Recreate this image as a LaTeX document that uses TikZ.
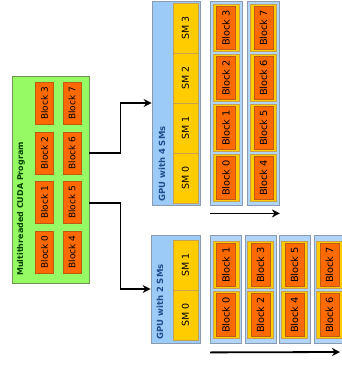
\documentclass[tikz,border=0pt]{standalone}
\usepackage{fontspec}
\setmainfont{DejaVu Sans}
\definecolor{progreen}{HTML}{96FA64}
\definecolor{progline}{HTML}{6E9650}
\definecolor{blkorange}{HTML}{FF6A00}
\definecolor{blkline}{HTML}{C05A10}
\definecolor{smyellow}{HTML}{FFCC00}
\definecolor{smline}{HTML}{C8A050}
\definecolor{gpublue}{HTML}{9CCBF8}
\definecolor{gpuline}{HTML}{8A9AB0}
\definecolor{labelblue}{HTML}{1F4E8C}
\tikzset{
  progbox/.style={draw=progline, fill=progreen, line width=0.8pt},
  gblk/.style={draw=blkline, fill=blkorange, rotate=90, minimum width=42pt, minimum height=18pt, inner sep=0pt, font=\fontsize{9}{10}\selectfont},
  gpubox/.style={draw=gpuline, fill=gpublue, line width=0.8pt},
  smbox/.style={draw=smline, fill=smyellow, rotate=90, minimum width=50pt, minimum height=25pt, inner sep=0pt, font=\fontsize{9.5}{10}\selectfont},
  colbox/.style={draw=gpuline, fill=gpublue!80!white, line width=0.8pt, minimum width=32pt},
  slot/.style={draw=smline, fill=smyellow, minimum width=26pt, minimum height=47pt, inner sep=0pt},
  cblk/.style={draw=blkline, fill=blkorange, rotate=90, minimum width=43pt, minimum height=19pt, inner sep=0pt, font=\fontsize{9.8}{10}\selectfont},
  gpulabel/.style={rotate=90, anchor=west, text=labelblue, inner sep=0pt, font=\bfseries\fontsize{8.5}{10}\selectfont},
  flow/.style={-{Stealth[length=8pt,width=8pt]}, line width=1.8pt}
}
\usetikzlibrary{arrows.meta}
\begin{document}
\begin{tikzpicture}[x=1pt,y=-1pt]
\useasboundingbox (0,0) rectangle (341,365);

% the program
\node[progbox, minimum width=77pt, minimum height=207pt] (prog) at (50.5,179.5) {};
\node[rotate=90, anchor=west, inner sep=0pt, text=green!25!black, font=\bfseries\fontsize{8}{9}\selectfont] (progname) at (21,276) {Multithreaded CUDA Program};
\foreach \i/\y in {0/252,1/202.5,2/153,3/103.5}{
  \pgfmathtruncatemacro\j{\i+4}
  \node[gblk] (pb\i) at (44.5,\y) {Block \i};
  \node[gblk] (pb\j) at (72,\y) {Block \j};
}

% GPU with 4 SMs
\node[gpubox, minimum width=48pt, minimum height=204pt] (gpuA) at (176,103) {};
\node[gpulabel] (gpuAname) at (162,202) {GPU with 4 SMs};
\foreach \i in {0,...,3}
  \node[smbox] (smA\i) at (185.5,178-50*\i) {SM \i};
\node[colbox, minimum height=204pt] (colA1) at (226,103) {};
\node[colbox, minimum height=204pt] (colA2) at (263.5,103) {};
\foreach \i in {0,...,3}{
  \pgfmathtruncatemacro\j{\i+4}
  \node[slot] (slA\i) at (226,178-50*\i) {};
  \node[cblk] (bA\i) at (226,178-50*\i) {Block \i};
  \node[slot] (slA\j) at (263.5,178-50*\i) {};
  \node[cblk] (bA\j) at (263.5,178-50*\i) {Block \j};
}

% GPU with 2 SMs
\node[gpubox, minimum width=49pt, minimum height=108pt] (gpuB) at (175.5,289) {};
\node[gpulabel] (gpuBname) at (160,340) {GPU with 2 SMs};
\node[smbox] (smB0) at (185.5,315) {SM 0};
\node[smbox] (smB1) at (185.5,265) {SM 1};
\foreach \c/\x in {1/226,2/260.5,3/294.5,4/329.5}{
  \pgfmathtruncatemacro\lo{2*\c-2}
  \pgfmathtruncatemacro\hi{2*\c-1}
  \node[colbox, minimum width=31pt, minimum height=108pt] (colB\c) at (\x,289) {};
  \node[slot] (slB\lo) at (\x,315) {};
  \node[cblk] (bB\lo) at (\x,315) {Block \lo};
  \node[slot] (slB\hi) at (\x,265) {};
  \node[cblk] (bB\hi) at (\x,265) {Block \hi};
}

% arrows
\coordinate (endB) at (340,352);
\draw[flow] ([yshift=26.5pt]prog.east) -- ++(31,0) |- (gpuA.west);
\draw[flow] ([yshift=-23.5pt]prog.east) -- ++(31,0) |- (gpuB.west);
\draw[flow] ([yshift=-8pt]colA1.south west) -- ([yshift=-8pt]colA2.south east);
\draw[flow] ([yshift=-9pt]colB1.south west) -- (endB);
\end{tikzpicture}
\end{document}
